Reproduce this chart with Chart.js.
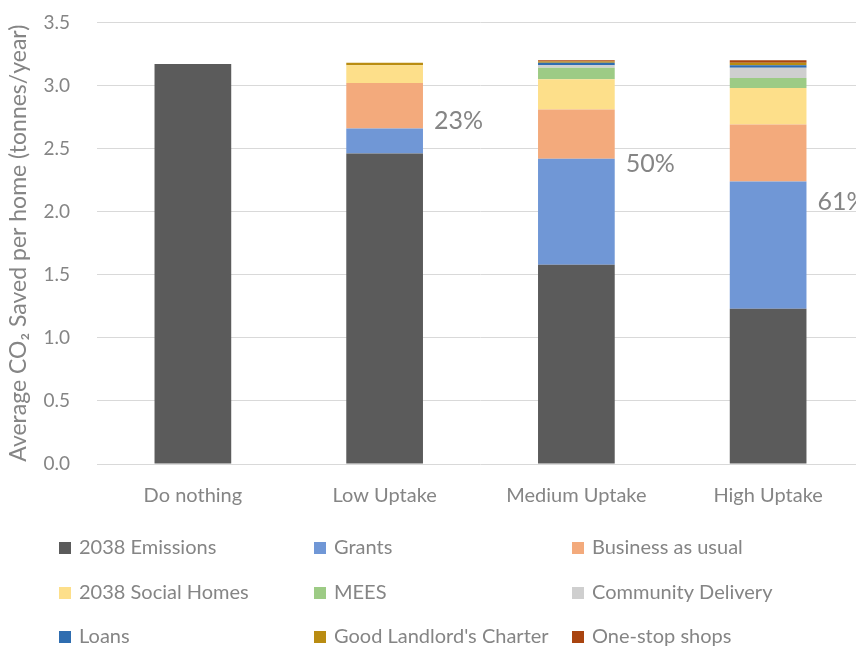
<!DOCTYPE html>
<html>
<head>
<meta charset="utf-8">
<script src="https://cdn.jsdelivr.net/npm/chart.js@4"></script>
<style>
  html, body { margin: 0; padding: 0; background: #fff; }
  #wrap { width: 856px; height: 653px; overflow: hidden; position: relative; }
  #wrap canvas { position: absolute; left: 0; top: -16px; }
</style>
</head>
<body>
<div id="wrap"><canvas id="ctx_co2" width="880" height="669"></canvas></div>
<script>
const scenarios = ['Do nothing', 'Low Uptake', 'Medium Uptake', 'High Uptake'];

const emissions2038 = [3.17, 2.46, 1.58, 1.23];
const grants        = [0, 0.20, 0.84, 1.01];
const businessUsual = [0, 0.36, 0.39, 0.45];
const socialHomes   = [0, 0.14, 0.24, 0.29];
const mees          = [0, 0, 0.09, 0.08];
const community     = [0, 0, 0.02, 0.08];
const loans         = [0, 0, 0.02, 0.02];
const goodLandlord  = [0, 0.02, 0.01, 0.02];
const oneStop       = [0, 0, 0.01, 0.02];

const savingLabels  = ['', '23%', '50%', '61%'];
const savingLabelY  = [null, 2.72, 2.38, 2.08];

const yTicks = [0, 0.5, 1, 1.5, 2, 2.5, 3, 3.5];

const FONT = 'Lato, "Open Sans", sans-serif';
const GREY = '#858585';
const SHIFT = 16; // canvas is moved up by this much (see css)

const series = [
    { label: '2038 Emissions', data: emissions2038, color: '#5b5b5b' },
    { label: 'Grants', data: grants, color: '#7097d6' },
    { label: 'Business as usual', data: businessUsual, color: '#f3aa7c' },
    { label: '2038 Social Homes', data: socialHomes, color: '#fddf8a' },
    { label: 'MEES', data: mees, color: '#9dcb85' },
    { label: 'Community Delivery', data: community, color: '#cfcfcf' },
    { label: 'Loans', data: loans, color: '#2f6db0' },
    { label: "Good Landlord's Charter", data: goodLandlord, color: '#b98c12' },
    { label: 'One-stop shops', data: oneStop, color: '#a9440f' }
];

// percentage text to the right of each bar
const savingText = {
    id: 'savingText',
    afterDatasetsDraw(chart) {
        const ctx = chart.ctx;
        const meta = chart.getDatasetMeta(0);
        const y = chart.scales.y;
        ctx.save();
        ctx.font = '25px ' + FONT;
        ctx.fillStyle = GREY;
        ctx.textBaseline = 'middle';
        savingLabels.forEach((t, i) => {
            if (!t) return;
            const bar = meta.data[i];
            ctx.fillText(t, bar.x + bar.width / 2 + 11, y.getPixelForValue(savingLabelY[i]));
        });
        ctx.restore();
    }
};

// legend in a 3 column grid under the plot
const gridLegend = {
    id: 'gridLegend',
    afterDraw(chart) {
        const ctx = chart.ctx;
        const cols = [59, 314, 572];
        const rows = [548, 593, 637];
        ctx.save();
        ctx.font = '20px ' + FONT;
        ctx.textBaseline = 'middle';
        series.forEach((s, i) => {
            const x = cols[i % 3], y = rows[Math.floor(i / 3)] + SHIFT;
            ctx.fillStyle = s.color;
            ctx.fillRect(x, y - 6, 12, 12);
            ctx.fillStyle = GREY;
            ctx.fillText(s.label, x + 20, y);
        });
        ctx.restore();
    }
};

new Chart(document.getElementById('ctx_co2').getContext('2d'), {
    type: 'bar',
    data: {
        labels: scenarios,
        datasets: series.map(s => ({
            label: s.label,
            data: s.data,
            backgroundColor: s.color,
            borderWidth: 0,
            categoryPercentage: 0.4,
            barPercentage: 1
        }))
    },
    options: {
        responsive: false,
        animation: false,
        layout: { padding: { top: 0, right: 16, bottom: 133, left: 0 } },
        plugins: {
            legend: { display: false },
            tooltip: { enabled: false }
        },
        scales: {
            x: {
                stacked: true,
                grid: { display: false },
                border: { display: false },
                ticks: { color: GREY, font: { family: FONT, size: 20 }, padding: 12 }
            },
            y: {
                stacked: true,
                min: 0,
                max: 3.5,
                afterBuildTicks(axis) { axis.ticks = yTicks.map(v => ({ value: v })); },
                afterFit(axis) { axis.width = 97; },
                grid: { color: '#d9d9d9', lineWidth: 1, drawTicks: false },
                border: { display: false },
                ticks: {
                    color: GREY,
                    font: { family: FONT, size: 19 },
                    padding: 27,
                    callback: v => v.toFixed(1)
                },
                title: {
                    display: true,
                    text: 'Average CO\u2082 Saved per home (tonnes/year)',
                    color: GREY,
                    font: { family: FONT, size: 23 },
                    padding: { top: 5, bottom: 0 }
                }
            }
        }
    },
    plugins: [savingText, gridLegend]
});
</script>
</body>
</html>
